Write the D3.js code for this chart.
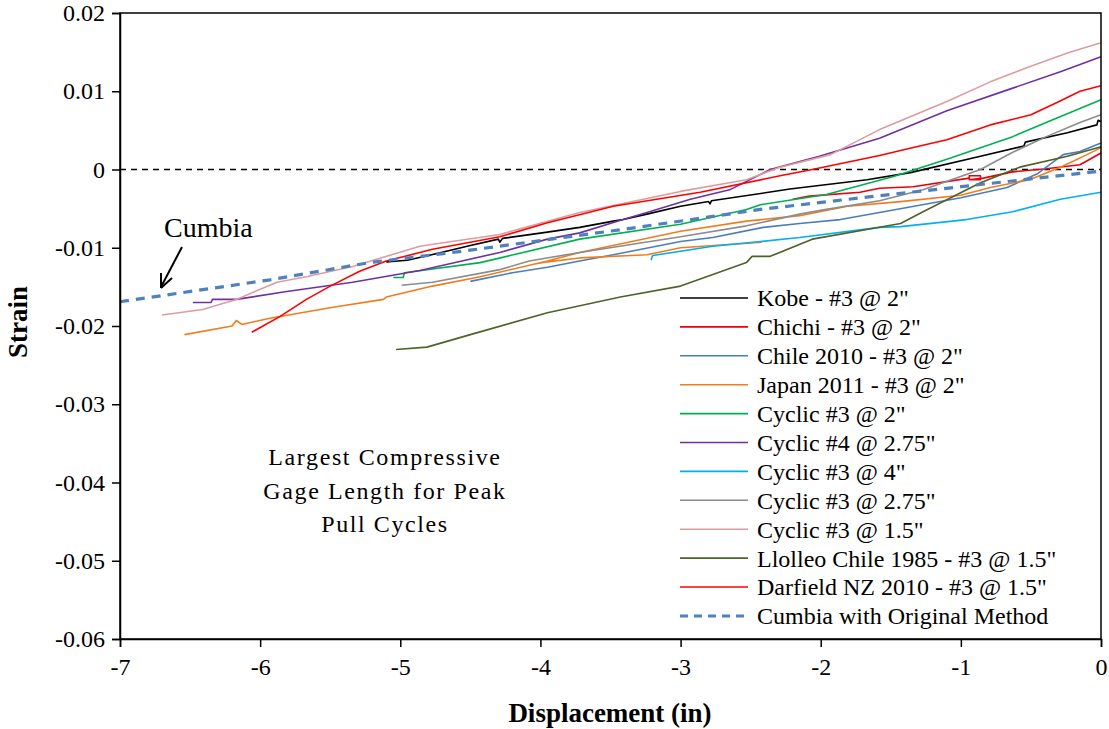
<!DOCTYPE html>
<html>
<head>
<meta charset="utf-8">
<script src="https://cdn.jsdelivr.net/npm/d3@7/dist/d3.min.js"></script>
<style>
  html, body { margin: 0; padding: 0; background: #fff; }
  svg { display: block; }
  text { font-family: "Liberation Serif", "Times New Roman", serif; }
</style>
</head>
<body>
<svg id="chart" width="1109" height="729"></svg>
<script>
// ---------------- data ----------------
const xTickValues = [-7, -6, -5, -4, -3, -2, -1, 0];
const xTickLabels = ["-7", "-6", "-5", "-4", "-3", "-2", "-1", "0"];
const yTickValues = [-0.06, -0.05, -0.04, -0.03, -0.02, -0.01, 0, 0.01, 0.02];
const yTickLabels = ["-0.06", "-0.05", "-0.04", "-0.03", "-0.02", "-0.01", "0", "0.01", "0.02"];

const seriesNames = [
  "Kobe - #3 @ 2\"", "Chichi - #3 @ 2\"", "Chile 2010 - #3 @ 2\"", "Japan 2011 - #3 @ 2\"",
  "Cyclic #3 @ 2\"", "Cyclic #4 @ 2.75\"", "Cyclic #3 @ 4\"", "Cyclic #3 @ 2.75\"",
  "Cyclic #3 @ 1.5\"", "Llolleo Chile 1985 - #3 @ 1.5\"", "Darfield NZ 2010 - #3 @ 1.5\"",
  "Cumbia with Original Method"
];
const seriesColors = ["#000000", "#e8000b", "#4a7ebb", "#f07c1e", "#00b050", "#7030a0",
  "#00b0f0", "#8c8c8c", "#dd9ca0", "#4f6228", "#ff0000", "#4f81bd"];

const kobe = [[-5.10,-0.0118],[-4.95,-0.0116],[-4.80,-0.0110],[-4.50,-0.0097],[-4.30,-0.0089],[-4.29,-0.0093],[-4.27,-0.0088],
  [-3.95,-0.0080],[-3.72,-0.0074],[-3.48,-0.0066],[-3.41,-0.0064],[-3.24,-0.0057],[-3.00,-0.0047],[-2.80,-0.0041],
  [-2.79,-0.0044],[-2.78,-0.0040],[-2.22,-0.0025],[-1.67,-0.0013],[-1.36,-0.0004],[-0.86,0.0017],[-0.55,0.0030],
  [-0.54,0.0035],[-0.24,0.0047],[-0.03,0.0057],[-0.02,0.0063],[0,0.0061]];
const chichi = [[-2.20,-0.0038],[-2.08,-0.0034],[-1.72,-0.0029],[-1.58,-0.0024],[-1.34,-0.0022],[-0.94,-0.0011],
  [-0.94,-0.0008],[-0.86,-0.0008],[-0.86,-0.0013],[-0.94,-0.0013],[-0.84,-0.0011],[-0.63,-0.0003],[-0.39,0.0001],
  [-0.15,0.0006],[0,0.0021]];
const chile = [[-4.50,-0.0143],[-4.20,-0.0132],[-3.95,-0.0125],[-3.72,-0.0117],[-3.48,-0.0109],[-3.00,-0.0092],
  [-2.77,-0.0087],[-2.41,-0.0074],[-2.15,-0.0069],[-1.86,-0.0064],[-1.58,-0.0055],[-1.00,-0.0036],[-0.67,-0.0023],
  [-0.45,-0.0005],[-0.27,0.0019],[-0.15,0.0023],[0,0.0034]];
const japan = [[-6.54,-0.0211],[-6.20,-0.0200],[-6.17,-0.0193],[-6.13,-0.0198],[-5.93,-0.0190],[-5.48,-0.0176],
  [-5.12,-0.0166],[-5.10,-0.0163],[-4.77,-0.0149],[-4.43,-0.0137],[-3.95,-0.0117],[-3.72,-0.0106],[-3.00,-0.0079],
  [-2.53,-0.0066],[-2.15,-0.0059],[-1.81,-0.0047],[-1.43,-0.0041],[-1.00,-0.0033],[-0.79,-0.0023],[-0.51,-0.0013],
  [-0.29,0.0003],[-0.10,0.0019],[0,0.0028],
  null,
  [-4.05,-0.0121],[-3.95,-0.0118],[-3.72,-0.0113],[-3.24,-0.0109],[-3.00,-0.0100],[-2.42,-0.0093]];
const cyclic3at2 = [[-5.05,-0.0138],[-4.98,-0.0138],[-4.97,-0.0132],[-4.43,-0.0119],[-3.72,-0.0089],[-3.00,-0.0070],
  [-2.53,-0.0051],[-2.43,-0.0045],[-1.96,-0.0032],[-1.48,-0.0009],[-1.10,0.0013],[-0.63,0.0042],[-0.34,0.0064],[0,0.0089]];
const cyclic4at275 = [[-6.48,-0.0170],[-6.35,-0.0170],[-6.34,-0.0166],[-6.17,-0.0166],[-5.81,-0.0156],[-5.34,-0.0144],
  [-4.86,-0.0129],[-4.29,-0.0106],[-3.95,-0.0089],[-3.72,-0.0081],[-3.41,-0.0064],[-3.24,-0.0055],[-2.93,-0.0038],
  [-2.65,-0.0026],[-2.36,0.0000],[-2.01,0.0017],[-1.58,0.0040],[-1.10,0.0075],[-0.63,0.0104],[-0.29,0.0125],[0,0.0144]];
const cyclic3at4 = [[-3.21,-0.0116],[-3.20,-0.0110],[-2.77,-0.0098],[-2.43,-0.0092],[-2.15,-0.0087],[-1.58,-0.0074],
  [-1.43,-0.0073],[-0.96,-0.0064],[-0.63,-0.0054],[-0.29,-0.0038],[0,-0.0029]];
const cyclic3at275 = [[-4.99,-0.0148],[-4.77,-0.0144],[-4.29,-0.0128],[-4.08,-0.0117],[-3.72,-0.0106],[-3.00,-0.0086],
  [-2.53,-0.0072],[-2.15,-0.0057],[-1.96,-0.0051],[-1.58,-0.0040],[-1.27,-0.0026],[-0.86,0.0000],[-0.63,0.0022],
  [-0.39,0.0042],[-0.15,0.0060],[0,0.0070]];
const cyclic3at15 = [[-6.70,-0.0186],[-6.41,-0.0179],[-6.17,-0.0166],[-5.88,-0.0144],[-5.67,-0.0137],[-5.34,-0.0124],
  [-4.86,-0.0098],[-4.67,-0.0093],[-4.29,-0.0083],[-3.72,-0.0055],[-3.00,-0.0028],[-2.53,-0.0013],[-2.29,0.0003],
  [-1.93,0.0019],[-1.58,0.0051],[-1.10,0.0087],[-0.79,0.0112],[-0.53,0.0130],[-0.24,0.0149],[0,0.0162]];
const llolleo = [[-5.03,-0.0230],[-4.81,-0.0227],[-4.50,-0.0211],[-3.95,-0.0183],[-3.43,-0.0163],[-3.00,-0.0149],
  [-2.53,-0.0119],[-2.49,-0.0111],[-2.36,-0.0111],[-2.06,-0.0089],[-1.43,-0.0069],[-1.27,-0.0054],[-0.86,-0.0017],
  [-0.58,0.0003],[-0.24,0.0017],[0,0.0029]];
const darfield = [[-6.06,-0.0208],[-5.86,-0.0188],[-5.67,-0.0166],[-5.50,-0.0149],[-5.29,-0.0130],[-5.10,-0.0117],
  [-4.77,-0.0102],[-4.29,-0.0086],[-3.95,-0.0068],[-3.48,-0.0047],[-2.86,-0.0029],[-2.29,-0.0008],[-2.06,0.0000],
  [-1.58,0.0018],[-1.34,0.0028],[-1.10,0.0038],[-0.79,0.0057],[-0.50,0.0070],[-0.31,0.0086],[-0.15,0.0100],[0,0.0107]];
const cumbia = [[-7.00,-0.0169],[-5.93,-0.0141],[-5.22,-0.0119],[-4.58,-0.0105],[-3.43,-0.0077],[-2.77,-0.0060],
  [-2.43,-0.0051],[-1.51,-0.0032],[-1.00,-0.0022],[0,-0.0002]];

const seriesData = [kobe, chichi, chile, japan, cyclic3at2, cyclic4at275, cyclic3at4, cyclic3at275,
  cyclic3at15, llolleo, darfield, cumbia];

const noteLines = ["Largest Compressive", "Gage Length for Peak", "Pull Cycles"];

// ---------------- chart ----------------
const svg = d3.select("#chart");
const plotL = 120, plotR = 1101, plotT = 13, plotB = 639;
const x = d3.scaleLinear().domain([-7, 0]).range([plotL, plotR]);
const y = d3.scaleLinear().domain([-0.06, 0.02]).range([plotB, plotT]);

svg.append("rect").attr("width", 1109).attr("height", 729).attr("fill", "#fff");

// zero line
svg.append("line")
  .attr("x1", x(-7)).attr("x2", x(0)).attr("y1", y(0)).attr("y2", y(0))
  .attr("stroke", "#000").attr("stroke-width", 1.5).attr("stroke-dasharray", "6,5");

// series
const line = d3.line().defined(d => d !== null).x(d => x(d[0])).y(d => y(d[1]));
seriesData.forEach((data, i) => {
  const isCumbia = i === seriesData.length - 1;
  svg.append("path")
    .datum(data)
    .attr("d", line)
    .attr("fill", "none")
    .attr("stroke", seriesColors[i])
    .attr("stroke-width", isCumbia ? 3.2 : 1.6)
    .attr("stroke-dasharray", isCumbia ? "9,7" : null)
    .attr("stroke-linejoin", "round");
});

// frame
svg.append("rect")
  .attr("x", plotL).attr("y", plotT).attr("width", plotR - plotL).attr("height", plotB - plotT)
  .attr("fill", "none").attr("stroke", "#000").attr("stroke-width", 1.5);

// axes
const yAxis = d3.axisLeft(y).tickValues(yTickValues)
  .tickFormat((d, i) => yTickLabels[i]).tickSize(8).tickPadding(7);
const gy = svg.append("g").attr("transform", `translate(${plotL},0)`).call(yAxis);
const xAxis = d3.axisBottom(x).tickValues(xTickValues)
  .tickFormat((d, i) => xTickLabels[i]).tickSize(8).tickPadding(11);
const gx = svg.append("g").attr("transform", `translate(0,${plotB})`).call(xAxis);
[gx, gy].forEach(g => {
  g.select(".domain").attr("stroke", "#000").attr("stroke-width", 1.5);
  g.selectAll(".tick line").attr("stroke", "#000").attr("stroke-width", 1.5);
  g.selectAll(".tick text").attr("fill", "#000").style("font-size", "24px")
    .style("font-family", "'Liberation Serif', serif");
});

// axis titles
svg.append("text").attr("x", 610).attr("y", 722).attr("text-anchor", "middle")
  .style("font-size", "27px").style("font-weight", "bold").text("Displacement (in)");
svg.append("text").attr("transform", "translate(27,322) rotate(-90)").attr("text-anchor", "middle")
  .style("font-size", "27px").style("font-weight", "bold").text("Strain");

// annotation
noteLines.forEach((t, i) => {
  svg.append("text").attr("x", 385).attr("y", 465 + i * 33.5).attr("text-anchor", "middle")
    .style("font-size", "24px").style("letter-spacing", "1.6px").text(t);
});

// Cumbia label + arrow
svg.append("text").attr("x", 164).attr("y", 237).style("font-size", "28px").text("Cumbia");
svg.append("line").attr("x1", 182).attr("y1", 247).attr("x2", 161).attr("y2", 287)
  .attr("stroke", "#000").attr("stroke-width", 2);
svg.append("path").attr("d", "M161,288 L161,273 M161,288 L172,278")
  .attr("stroke", "#000").attr("stroke-width", 2).attr("fill", "none");

// legend
const legend = svg.append("g");
seriesNames.forEach((name, i) => {
  const ly = 298 + i * 28.9;
  const isCumbia = i === seriesNames.length - 1;
  legend.append("line").attr("x1", 680).attr("x2", 748).attr("y1", ly).attr("y2", ly)
    .attr("stroke", seriesColors[i]).attr("stroke-width", isCumbia ? 3 : 1.6)
    .attr("stroke-dasharray", isCumbia ? "8,6" : null);
  legend.append("text").attr("x", 757).attr("y", ly).attr("dy", "0.35em")
    .style("font-size", "24px").text(name);
});
</script>
</body>
</html>
